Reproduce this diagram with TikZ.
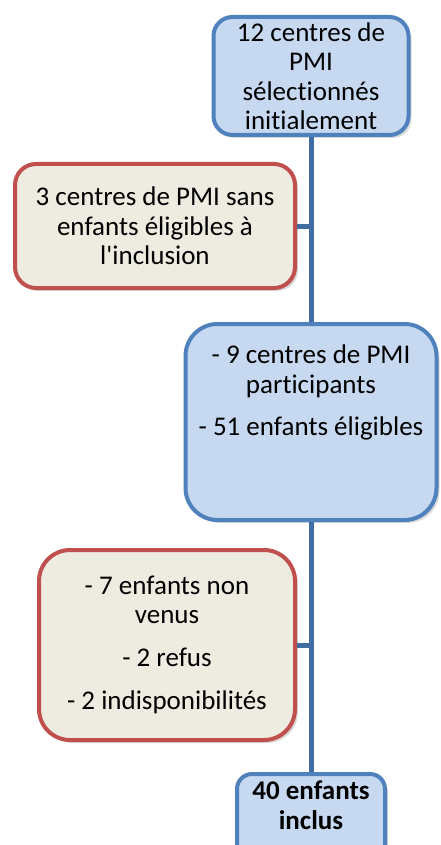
\documentclass[tikz,border=0pt]{standalone}
\usepackage[RGB]{xcolor}
\usepackage{fontspec}
\setmainfont{Carlito}[Ligatures={TeX,NoCommon}]
\usepackage{tikz}
\usetikzlibrary{shadows}
\definecolor{B}{RGB}{79,129,189}
\definecolor{BF}{RGB}{198,217,241}
\definecolor{R}{RGB}{192,80,77}
\definecolor{RF}{RGB}{238,236,225}
\definecolor{T}{RGB}{64,110,164}
\newcommand{\drawlink}{\draw[line width=5pt, T]}
\newcommand{\boxfont}{\fontsize{27}{29.5}\selectfont}
\tikzset{
    flowbox/.style={line width=4pt, inner sep=0pt, align=center, font=\boxfont,
        drop shadow={opacity=0.3, shadow xshift=3pt, shadow yshift=-3pt}},
    bluebox/.style={flowbox, draw=B, fill=BF},
    redbox/.style={flowbox, draw=R, fill=RF},
    boxtext/.style={inner sep=0pt, align=center, font=\boxfont}
}
\begin{document}
\begin{tikzpicture}[x=1pt, y=-1pt]
\useasboundingbox (0,0) rectangle (441,845);
\node[bluebox, minimum width=195pt, minimum height=118pt, rounded corners=19pt] (selected) at (311,76)
    {12 centres de\\ PMI\\ sélectionnés\\ initialement};
\node[redbox, minimum width=280pt, minimum height=124pt, rounded corners=21pt] (excluded) at (155,226)
    {3 centres de PMI sans\\ enfants éligibles à\\ l\textquotesingle inclusion};
\node[bluebox, minimum width=251pt, minimum height=196pt, rounded corners=32pt] (participants) at (311,422) {};
\node[boxtext, anchor=north] (participantstext) at ([yshift=-23pt]participants.north)
    {- 9 centres de PMI\\ participants\\[13pt] - 51 enfants éligibles};
\node[redbox, minimum width=256pt, minimum height=190pt, rounded corners=31pt] (dropped) at (167,645)
    {- 7 enfants non\\ venus\\[13pt] - 2 refus\\[14pt] - 2 indisponibilités};
\node[bluebox, minimum width=148pt, minimum height=90pt, rounded corners=15pt] (included) at (311,819) {};
\node[boxtext, anchor=north, font=\boxfont\bfseries] (includedtext) at ([yshift=-9pt]included.north)
    {40 enfants\\ inclus};
% trunk and side branches
\drawlink (selected.south) -- (participants.north);
\drawlink (participants.south) -- (included.north);
\drawlink (excluded.east) -- (excluded.east -| selected.south);
\drawlink (dropped.east) -- (dropped.east -| selected.south);
\end{tikzpicture}
\end{document}
